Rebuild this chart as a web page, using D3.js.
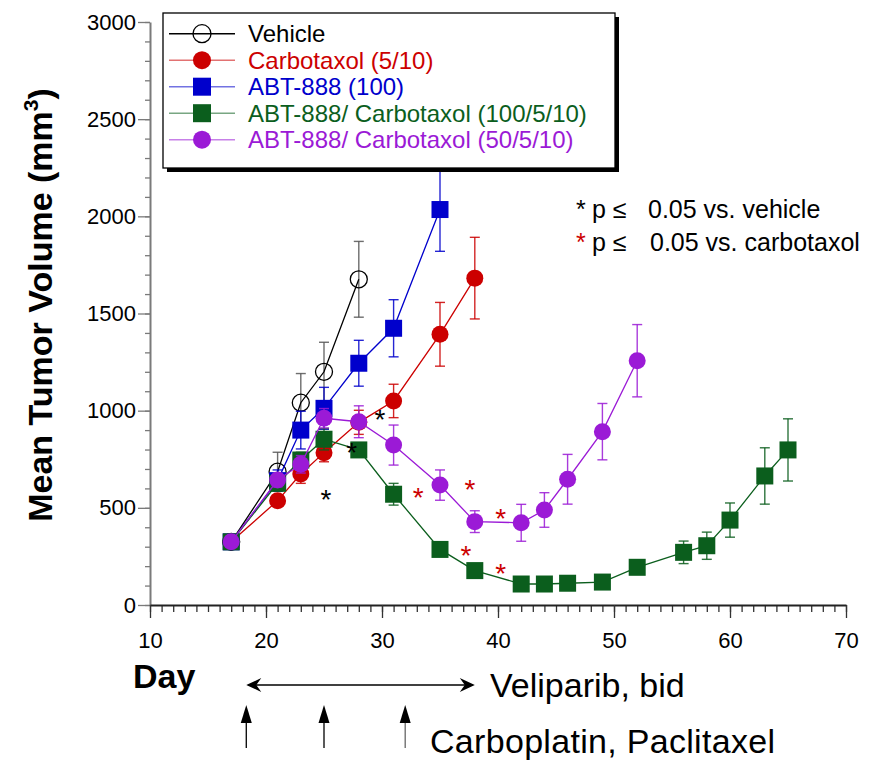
<!DOCTYPE html>
<html><head><meta charset="utf-8">
<script src="https://cdn.jsdelivr.net/npm/d3@7"></script>
<style>
body{margin:0;background:#fff}
svg{display:block}
text{font-family:"Liberation Sans",Arial,Helvetica,sans-serif}
</style>
</head><body>
<svg id="chart" width="872" height="760"></svg>
<script>
// ---------- data ----------
const seriesNames = ["Vehicle","Carbotaxol (5/10)","ABT-888 (100)","ABT-888/ Carbotaxol (100/5/10)","ABT-888/ Carbotaxol (50/5/10)"];
const seriesColors = ["#000000","#cc0000","#0000cc","#0b5e1d","#9b1ad6"];
const seriesShapes = ["openCircle","circle","square","square","circle"];

const vehicleDays = [17,21,23,25,28];
const vehicleMean = [325,686,1041,1200,1676];
const vehicleErr  = [15,100,150,152,195];

const carboDays = [17,21,23,25,28,31,35,38];
const carboMean = [325,537,674,784,940,1050,1393,1682];
const carboErr  = [15,30,48,47,62,86,164,210];

const abtDays = [17,21,23,25,28,31,35];
const abtMean = [325,640,900,1012,1244,1424,2035];
const abtErr  = [15,55,97,108,118,147,215];

const combo100Days = [17,21,23,25,28,31,35,38,42,44,46,49,52,56,58,60,63,65];
const combo100Mean = [325,626,746,853,798,570,286,177,108,108,112,118,194,271,305,437,664,798];
const combo100Err  = [15,30,40,55,35,56,30,25,10,10,10,12,15,58,70,88,145,160];

const combo50Days = [17,21,23,25,28,31,35,38,42,44,46,49,52];
const combo50Mean = [325,643,724,961,943,823,617,429,423,489,647,892,1257];
const combo50Err  = [15,35,45,50,82,103,78,56,95,89,128,145,186];

const xTickValues = [10,20,30,40,50,60,70];
const yTickValues = [0,500,1000,1500,2000,2500,3000];

// significance markers (day, value position)
const sigVehicleDays   = [25.17,27.39,29.83];
const sigVehicleValues = [575,818,986];
const sigCarboDays     = [33.13,37.59,37.24,40.23,40.23];
const sigCarboValues   = [588,629,287,480,197];

const sigLegendLines = ["0.05 vs. vehicle","0.05 vs. carbotaxol"];
const veliparibRange = [18.3,38];
const carboplatinDoseDays = [18.3,25,32];

// ---------- build ----------
const series = [
  {days:vehicleDays, mean:vehicleMean, err:vehicleErr},
  {days:carboDays, mean:carboMean, err:carboErr},
  {days:abtDays, mean:abtMean, err:abtErr},
  {days:combo100Days, mean:combo100Mean, err:combo100Err},
  {days:combo50Days, mean:combo50Mean, err:combo50Err}
].map((s,i)=>({name:seriesNames[i], color:seriesColors[i], shape:seriesShapes[i],
  points:s.days.map((d,j)=>({day:d, value:s.mean[j], err:s.err[j]}))}));

const svg = d3.select("#chart");
const x = d3.scaleLinear().domain([10,70]).range([150,846]);
const y = d3.scaleLinear().domain([0,3000]).range([605,22]);

// ---------- axes ----------
const axisGray = "#7a7a7a";
svg.append("g").attr("transform","translate(150,0)")
  .call(d3.axisLeft(y).tickValues(d3.range(0,3001,100)).tickSize(5).tickSizeOuter(0).tickFormat(""))
  .call(g=>{g.selectAll("line").attr("stroke",axisGray).attr("stroke-width",1.3); g.select(".domain").remove();});
svg.append("g").attr("transform","translate(150,0)")
  .call(d3.axisLeft(y).tickValues(yTickValues).tickSize(12).tickPadding(2).tickSizeOuter(0).tickFormat(d3.format("d")))
  .call(g=>{
    g.select(".domain").attr("stroke",axisGray).attr("stroke-width",2);
    g.selectAll("line").attr("stroke",axisGray).attr("stroke-width",1.3);
    g.selectAll("text").attr("font-size",22).attr("fill","#000")
      .attr("font-family","'Liberation Sans',Arial,sans-serif");
  });
svg.append("g").attr("transform","translate(0,605)")
  .call(d3.axisBottom(x).tickValues(d3.range(10,71,1)).tickSize(7).tickSizeOuter(0).tickFormat(""))
  .call(g=>{g.selectAll("line").attr("stroke","#333").attr("stroke-width",1.3); g.select(".domain").remove();});
svg.append("g").attr("transform","translate(0,605)")
  .call(d3.axisBottom(x).tickValues(xTickValues).tickSize(13).tickPadding(14).tickSizeOuter(0).tickFormat(d3.format("d")))
  .call(g=>{
    g.select(".domain").attr("stroke","#222").attr("stroke-width",2);
    g.selectAll("line").attr("stroke","#333").attr("stroke-width",1.3);
    g.selectAll("text").attr("font-size",22).attr("fill","#000")
      .attr("font-family","'Liberation Sans',Arial,sans-serif");
  });

// y axis title
svg.append("text")
  .attr("transform","translate(52,305) rotate(-90)")
  .attr("text-anchor","middle").attr("font-size",34).attr("font-weight","bold")
  .text("Mean Tumor Volume (mm")
  .call(t=>{t.append("tspan").attr("font-size",21).attr("dy",-14).text("3");
            t.append("tspan").attr("dy",14).text(")");});

// ---------- marker helper ----------
function drawMarker(g, shape, color, cx, cy, size){
  const r = size/2;
  if(shape==="square"){
    g.append("rect").attr("x",cx-r).attr("y",cy-r).attr("width",size).attr("height",size).attr("fill",color);
  } else if(shape==="circle"){
    g.append("circle").attr("cx",cx).attr("cy",cy).attr("r",r).attr("fill",color);
  } else {
    g.append("circle").attr("cx",cx).attr("cy",cy).attr("r",r).attr("fill","none").attr("stroke",color).attr("stroke-width",1.3);
  }
}

// ---------- series ----------
const line = d3.line().x(d=>x(d.day)).y(d=>y(d.value));
series.forEach(s=>{
  const g = svg.append("g");
  const ebColor = s.color==="#000000" ? "#555" : s.color;
  s.points.forEach(p=>{
    const cx = x(p.day), t = y(p.value+p.err), b = y(p.value-p.err);
    g.append("line").attr("x1",cx).attr("x2",cx).attr("y1",t).attr("y2",b)
      .attr("stroke",ebColor).attr("stroke-width",1.4).attr("opacity",0.85);
    [t,b].forEach(v=>g.append("line").attr("x1",cx-5).attr("x2",cx+5).attr("y1",v).attr("y2",v)
      .attr("stroke",ebColor).attr("stroke-width",1.4).attr("opacity",0.85));
  });
  g.append("path").datum(s.points).attr("d",line).attr("fill","none")
    .attr("stroke",s.color).attr("stroke-width",1.3);
  s.points.forEach(p=>drawMarker(g,s.shape,s.color,x(p.day),y(p.value),17));
});

// ---------- significance asterisks ----------
const astSize = 28;
sigVehicleDays.forEach((d,i)=>svg.append("text").attr("x",x(d)).attr("y",y(sigVehicleValues[i])+astSize*0.57)
  .attr("text-anchor","middle").attr("font-size",astSize).attr("fill","#000").text("*"));
sigCarboDays.forEach((d,i)=>svg.append("text").attr("x",x(d)).attr("y",y(sigCarboValues[i])+astSize*0.57)
  .attr("text-anchor","middle").attr("font-size",astSize).attr("fill","#cc0000").text("*"));

// ---------- legend ----------
const lg = svg.append("g");
lg.append("rect").attr("x",167).attr("y",17).attr("width",452).attr("height",155).attr("fill","#000");
lg.append("rect").attr("x",163).attr("y",13).attr("width",452).attr("height",155)
  .attr("fill","#fff").attr("stroke","#000").attr("stroke-width",1.3);
series.forEach((s,i)=>{
  const cy = 33.7 + i*26.5;
  lg.append("line").attr("x1",169).attr("x2",235).attr("y1",cy).attr("y2",cy)
    .attr("stroke",s.color).attr("stroke-width",1.5).attr("opacity",s.color==="#000000"?1:0.55);
  drawMarker(lg,s.shape,s.color,202,cy,18);
  lg.append("text").attr("x",248).attr("y",cy+8.6).attr("font-size",24).attr("fill",s.color).text(s.name);
});

const sigColors = ["#000","#cc0000"];
sigLegendLines.forEach((t,i)=>{
  const by = 218 + i*33;
  svg.append("text").attr("x",576).attr("y",by).attr("font-size",25).attr("fill",sigColors[i]).text("*");
  svg.append("text").attr("x",592).attr("y",by).attr("font-size",25).text("p \u2264");
  svg.append("text").attr("x",648+i*2).attr("y",by).attr("font-size",25).text(t);
});

// ---------- bottom annotations ----------
svg.append("text").attr("x",133).attr("y",688).attr("font-size",34).attr("font-weight","bold").text("Day");

const ay = 685, xa = x(veliparibRange[0]), xb = x(veliparibRange[1]);
svg.append("line").attr("x1",xa+2).attr("x2",xb-2).attr("y1",ay).attr("y2",ay).attr("stroke","#000").attr("stroke-width",1.3);
svg.append("path").attr("d",`M${xa},${ay} L${xa+15},${ay-7} L${xa+10},${ay} L${xa+15},${ay+7} Z`).attr("fill","#000");
svg.append("path").attr("d",`M${xb},${ay} L${xb-15},${ay-7} L${xb-10},${ay} L${xb-15},${ay+7} Z`).attr("fill","#000");
svg.append("text").attr("x",490).attr("y",697).attr("font-size",34).text("Veliparib, bid");

carboplatinDoseDays.forEach((d,i)=>{
  const cx = x(d);
  svg.append("line").attr("x1",cx).attr("x2",cx).attr("y1",718).attr("y2",748)
    .attr("stroke",i===2?"#666":"#000").attr("stroke-width",1.3);
  svg.append("path").attr("d",`M${cx},${705} L${cx+5.5},${723} L${cx-5.5},${723} Z`).attr("fill","#000");
});
svg.append("text").attr("x",430).attr("y",753).attr("font-size",34).attr("textLength",345).text("Carboplatin, Paclitaxel");
</script>
</body></html>
